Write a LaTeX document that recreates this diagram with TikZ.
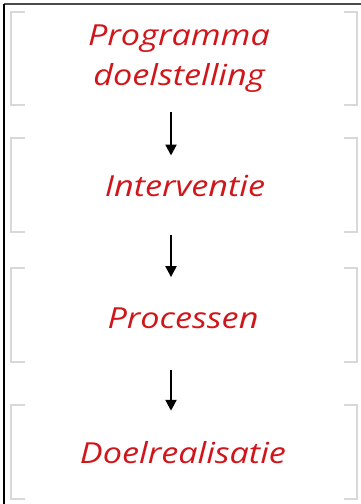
\documentclass[tikz,border=0pt]{standalone}
\usepackage{fontspec}
\newfontfamily\labelfont[FakeStretch=1.18]{Open Sans}
\usetikzlibrary{arrows.meta}
\definecolor{labelred}{HTML}{D0161B}
\definecolor{bracketgray}{HTML}{D8D8D8}
\tikzset{
  label/.style={font=\labelfont\itshape\fontsize{29}{40}\selectfont, text=labelred, inner sep=0pt, align=center},
  bracket/.style={draw=bracketgray, line width=2pt},
  flow/.style={line width=2.2pt, -{Triangle[width=11pt,length=11pt]}},
}
\begin{document}
\begin{tikzpicture}[x=1pt,y=-1pt]
  \useasboundingbox (0,0) rectangle (361,504);
  % frame edges
  \draw[line width=1.4pt, black!70] (4,4) -- (361,4);
  \draw[line width=1.4pt, black] (4,4) -- (4,504);

  % bracket pairs around each stage
  \foreach \t/\b in {12/105, 138/232, 268/362, 405/499}{
    \draw[bracket] (25,\t) -- (11,\t) -- (11,\b) -- (25,\b);
    \draw[bracket] (344,\t) -- (357,\t) -- (357,\b) -- (344,\b);
  }

  % stage labels
  \node[label, anchor=base] (goal) at (179,85) {Programma\\doelstelling};
  \node[label, anchor=base] (interv) at (185,196) {Interventie};
  \node[label, anchor=base] (proc) at (183,328) {Processen};
  \node[label, anchor=base] (real) at (183,463) {Doelrealisatie};

  % arrows between the stages
  \coordinate (ax) at (171,0);
  \draw[flow, shorten <=20pt, shorten >=19pt] (goal.south -| ax) -- (interv.north -| ax);
  \draw[flow, shorten <=39pt, shorten >=30pt] (interv.south -| ax) -- (proc.north -| ax);
  \draw[flow, shorten <=42pt, shorten >=30pt] (proc.south -| ax) -- (real.north -| ax);
\end{tikzpicture}
\end{document}
